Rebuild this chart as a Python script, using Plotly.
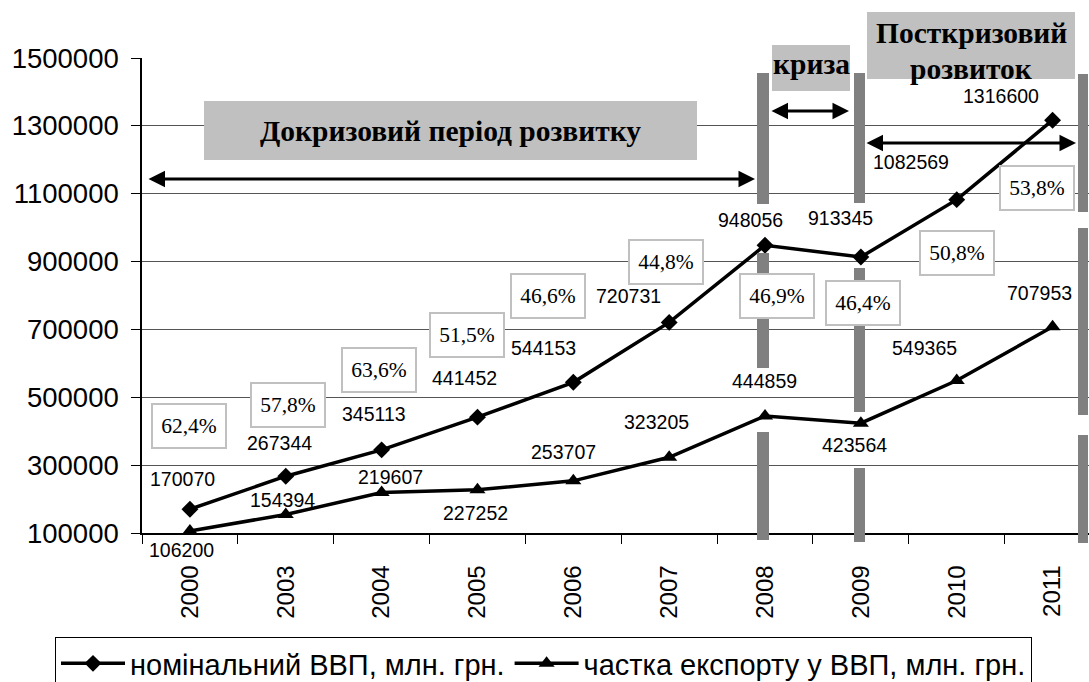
import plotly.graph_objects as go

# ---------------- data ----------------
years = ["2000", "2003", "2004", "2005", "2006", "2007", "2008", "2009", "2010", "2011"]
gdp = [170070, 267344, 345113, 441452, 544153, 720731, 948056, 913345, 1082569, 1316600]
export = [106200, 154394, 219607, 227252, 253707, 323205, 444859, 423564, 549365, 707953]
share_labels = ["62,4%", "57,8%", "63,6%", "51,5%", "46,6%", "44,8%", "46,9%", "46,4%", "50,8%", "53,8%"]
name_gdp = "номінальний ВВП, млн. грн."
name_exp = "частка експорту у ВВП, млн. грн."
y_ticks = [100000, 300000, 500000, 700000, 900000, 1100000, 1300000, 1500000]

# ---------------- layout geometry (screen pixels) ----------------
W, H = 1089, 682
L, T, R, B = 142, 58, 1089, 533   # plot area
XR = [-0.5, 9.38]
YR = [100000, 1500000]

def xp(px):
    return (px - L) / (R - L)

def yp(py):
    return (B - py) / (B - T)

def xd(px):
    return XR[0] + (px - L) / (R - L) * (XR[1] - XR[0])

def yd(py):
    return YR[0] + (B - py) / (B - T) * (YR[1] - YR[0])

SANS = "Liberation Sans, Arial, sans-serif"
SERIF = "Liberation Serif, Times New Roman, serif"

fig = go.Figure()
fig.add_trace(go.Scatter(x=years, y=gdp, name=name_gdp, mode="lines+markers",
                         line=dict(color="black", width=3.5),
                         marker=dict(symbol="diamond", size=13, color="black")))
fig.add_trace(go.Scatter(x=years, y=export, name=name_exp, mode="lines+markers",
                         line=dict(color="black", width=3.5),
                         marker=dict(symbol="triangle-up", size=14, color="black")))

# data label offsets (pixels, dx right, dy down)
gdp_off = [(-7, -30), (-6, -33), (-8, -36), (-13, -39), (-30, -34), (-41, -26),
           (-15, -25), (-20, -39), (-46, -38), (-52, -24)]
exp_off = [(-8, 19), (-3, -15), (9, -15), (-2, 23), (-10, -29), (-13, -35),
           (-1, -35), (-6, 22), (-32, -33), (-13, -34)]
pct_off = [(-1, -83), (2, -71), (-3, -80), (-10, -82), (-25, -86), (-3, -60),
           (12, 51), (2, 46), (0, 53), (-16, 68)]

ann = []
for i in range(len(years)):
    dx, dy = gdp_off[i]
    ann.append(dict(x=i, y=gdp[i], xref="x", yref="y", text=str(gdp[i]), showarrow=False,
                    xshift=dx, yshift=-dy, xanchor="center", yanchor="middle",
                    font=dict(family=SANS, size=19.5, color="black")))
    dx, dy = exp_off[i]
    ann.append(dict(x=i, y=export[i], xref="x", yref="y", text=str(export[i]), showarrow=False,
                    xshift=dx, yshift=-dy, xanchor="center", yanchor="middle",
                    font=dict(family=SANS, size=19.5, color="black")))
    dx, dy = pct_off[i]
    ann.append(dict(x=i, y=gdp[i], xref="x", yref="y", text=share_labels[i], showarrow=False,
                    xshift=dx, yshift=-dy, xanchor="center", yanchor="middle",
                    font=dict(family=SERIF, size=21.5, color="black"),
                    bgcolor="white", bordercolor="#c0c0c0", borderwidth=2, borderpad=0,
                    width=72, height=42))

shapes = []
def textbox(x0, y0, x1, y1):
    shapes.append(dict(type="rect", xref="paper", yref="paper", x0=xp(x0), x1=xp(x1),
                       y0=yp(y1), y1=yp(y0), fillcolor="#c0c0c0", line=dict(width=0),
                       layer="above"))

def label(tx, ty, txt, size=29.5):
    ann.append(dict(xref="paper", yref="paper", x=xp(tx), y=yp(ty), text="<b>%s</b>" % txt,
                    xanchor="center", yanchor="middle", showarrow=False,
                    font=dict(family=SERIF, size=size, color="black")))

textbox(204, 101, 697, 160)
label(450, 131, "Докризовий період розвитку")
textbox(772, 45, 850, 91)
label(811, 64, "криза")
textbox(867, 12, 1075, 79)
label(971, 33, "Посткризовий")
label(971, 69, "розвиток")

# vertical gray separators
seps = [
    (757, 769, [(73, 204), (253, 368), (432, 540)]),
    (854, 865, [(73, 203), (268, 412), (468, 542)]),
    (1078, 1088, [(74, 212), (228, 415), (435, 543)]),
]
for x0, x1, segs in seps:
    for s0, s1 in segs:
        shapes.append(dict(type="rect", xref="paper", yref="paper", x0=xp(x0), x1=xp(x1),
                           y0=yp(s1), y1=yp(s0), fillcolor="#808080", line=dict(width=0),
                           layer="above"))

# double-headed arrows
arrows = [(147, 755, 179), (770, 849, 111), (865, 1076, 143)]
for a0, a1, ay in arrows:
    ann.append(dict(x=xd(a1), y=yd(ay), ax=xd(a0), ay=yd(ay), xref="x", yref="y",
                    axref="x", ayref="y", text="", showarrow=True, arrowhead=2,
                    arrowside="end+start", arrowsize=1.1, arrowwidth=3, arrowcolor="black",
                    standoff=0, startstandoff=0))

fig.update_layout(
    width=W, height=H,
    margin=dict(l=L, r=W - R, t=T, b=H - B, pad=0, autoexpand=False),
    paper_bgcolor="white", plot_bgcolor="white",
    showlegend=True,
    legend=dict(orientation="h", x=xp(55), y=yp(637), xanchor="left", yanchor="top",
                bordercolor="black", borderwidth=1, bgcolor="white",
                font=dict(family=SANS, size=29, color="black"),
                itemwidth=64, tracegroupgap=0),
    shapes=shapes,
    annotations=ann,
)
fig.update_xaxes(type="category", range=XR, showgrid=False, showline=True, automargin=False,
                 linecolor="black", linewidth=1.5, ticks="outside", ticklen=9,
                 tickcolor="black", tickson="boundaries", tickangle=-90,
                 tickfont=dict(family=SANS, size=24, color="black"),
                 ticklabelstandoff=21)
fig.update_yaxes(range=YR, tickvals=y_ticks, ticktext=[str(v) for v in y_ticks],
                 showgrid=True, gridcolor="#555555", gridwidth=1, automargin=False,
                 showline=True, linecolor="black", linewidth=1.5, ticks="outside",
                 ticklen=9, tickcolor="black",
                 tickfont=dict(family=SANS, size=27.5, color="black"),
                 ticklabelstandoff=7, zeroline=False)

fig.write_html("out.html", config={"displayModeBar": False},
               post_script="document.body.style.margin='0';document.body.style.overflow='hidden';")
